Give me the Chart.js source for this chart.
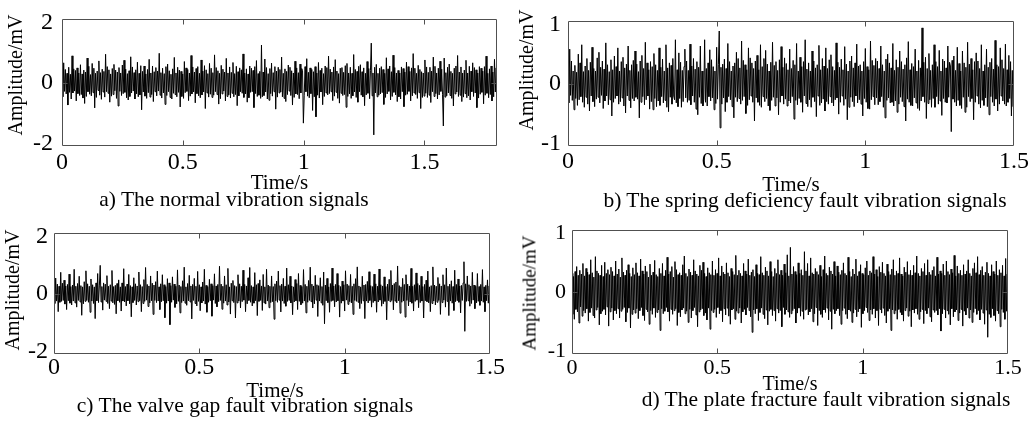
<!DOCTYPE html>
<html>
<head>
<meta charset="utf-8">
<script src="https://cdn.jsdelivr.net/npm/chart.js@4/dist/chart.umd.min.js"></script>
<style>
  html, body { margin: 0; padding: 0; background: #fff; }
  body { width: 1036px; height: 428px; position: relative; overflow: hidden; }
  canvas { position: absolute; }
  .txt { position: absolute; font-family: "Liberation Serif", "Times New Roman", serif; font-weight: normal; white-space: nowrap; color: #000; line-height: 1; }
</style>
</head>
<body>
<canvas id="ca" width="518" height="214" style="left:0px;top:0px;width:518px;height:214px"></canvas>
<canvas id="cb" width="518" height="214" style="left:518px;top:0px;width:518px;height:214px"></canvas>
<canvas id="cc" width="518" height="214" style="left:0px;top:214px;width:518px;height:214px"></canvas>
<canvas id="cd" width="518" height="214" style="left:518px;top:214px;width:518px;height:214px"></canvas>
<script>
// ---------------- data (amplitude in mV) ----------------
const captions = [
  'a) The normal vibration signals',
  'b) The spring deficiency fault vibration signals',
  'c) The valve gap fault vibration signals',
  'd) The plate fracture fault vibration signals'
];
const xTitle = 'Time/s';
const yTitle = 'Amplitude/mV';

const durationA = 1.8;   // seconds shown in each panel
const durationB = 1.5;
const durationC = 1.5;
const durationD = 1.5;

const yTicksA = [-2, 0, 2];
const yTicksB = [-1, 0, 1];
const yTicksC = [-2, 0, 2];
const yTicksD = [-1, 0, 1];
const xTickStep = 0.5;

const signalA = [
.34,-.45,.62,-.28,.41,-.36,.29,-.71,.48,-.31,.26,-.52,.84,-.33,.43,-.27,.38,-.58,.46,-.35,
.3,-.41,.56,-.38,.27,-.49,.39,-.66,.33,-.44,.77,-.29,.51,-.37,.25,-.42,.6,-.32,.45,-.8,
.29,-.47,.36,-.25,.68,-.4,.31,-.53,.42,-.3,.35,-.46,.89,-.29,.5,-.34,.4,-.62,.27,-.43,
.44,-.38,.57,-.26,.39,-.5,.33,-.74,.47,-.28,.3,-.41,.55,-.35,.7,-.31,.42,-.48,.28,-.55,
.37,-.44,.81,-.33,.49,-.27,.31,-.52,.4,-.36,.64,-.45,.29,-.39,.53,-.86,.35,-.3,.52,-.43,
.27,-.5,.41,-.32,.73,-.46,.3,-.38,.52,-.6,.34,-.29,.47,-.42,.36,-.27,.92,-.4,.31,-.49,
.45,-.33,.28,-.69,.5,-.41,.58,-.29,.37,-.47,.26,-.52,.43,-.34,.79,-.38,.3,-.45,.48,-.31,
.39,-.77,.35,-.44,.27,-.5,.66,-.32,.46,-.28,.41,-.57,.3,-.43,.85,-.36,.49,-.3,.33,-.64,
.44,-.35,.5,-.42,.29,-.48,.71,-.39,.36,-.3,.53,-.82,.4,-.33,.28,-.46,.6,-.37,.45,-.47,
.31,-.4,.87,-.29,.47,-.38,.37,-.68,.29,-.51,.54,-.36,.42,-.27,.33,-.58,.76,-.44,.3,-.39,
.49,-.49,.32,-.34,.63,-.45,.28,-.38,.51,-.73,.34,-.42,.46,-.29,.4,-.34,.9,-.47,.3,-.36,
.43,-.62,.27,-.48,.52,-.31,.45,-.29,.38,-.79,.5,-.35,.69,-.44,.28,-.4,.35,-.5,1.18,-.45,
.33,-.41,.74,-.3,.47,-.52,.28,-.56,.44,-.35,.61,-.43,.31,-.29,.5,-.84,.36,-.46,.48,-.33,
.41,-.3,.8,-.45,.29,-.5,.43,-.6,.35,-.38,.55,-.27,.48,-.41,.37,-.71,.3,-.47,.67,-.36,
.46,-.38,.31,-.51,.58,-.33,.44,.37,-1.28,-.4,.5,-.29,.75,-.43,.32,-.48,.46,-.35,.41,-.88,
.34,-.45,.5,-1.08,.3,-.4,.63,-.49,.38,-.3,.45,-.7,.28,-.44,.52,-.33,.47,-.39,.83,-.35,
.42,-.29,.33,-.57,.49,-.43,.72,-.31,.36,-.5,.28,-.65,.45,-.34,.47,-.41,.32,-.38,.53,-.78,
.6,-.44,.3,-.36,.48,-.5,.29,-.42,.88,-.3,.41,-.47,.35,-.62,.51,-.29,.56,-.4,.34,-.45,
.46,-.73,.29,-.39,.66,-.34,.44,-.51,.37,1.24,-.42,.3,-1.65,.48,-.33,.57,-.45,.29,-.4,.45,
-.36,.5,-.32,.41,-.69,.29,-.47,.78,-.36,.43,-.28,.52,-.55,.34,-.44,.86,-.31,.47,-.39,.3,
-.6,.38,-.45,.3,-.52,.49,-.29,.44,-.76,.33,-.4,.64,-.37,.5,-.28,.35,-.58,.46,-.42,.91,
-.33,.45,-.38,.29,-.5,.54,-.32,.41,-.82,.34,-.47,.3,-.43,.71,-.34,.49,-.47,.32,-.4,.48,
-.63,.36,-.29,.8,-.44,.51,-.35,.3,-.52,.45,-.39,.67,-.28,.42,-.37,-1.37,.77,-.46,.31,-.42,
.48,-.33,.58,-.41,.35,-.5,.29,-.74,.45,-.36,.52,-.3,.85,-.44,.33,-.4,.49,-.6,.3,-.46,
.39,-.35,.7,-.48,.3,-.42,.51,-.55,.36,-.29,.62,-.44,.47,-.33,.4,-.79,.3,-.49,.5,-.37,
.45,-.31,.36,-.67,.5,-.4,.83,-.34,.29,-.48,.43,-.38,.52,-.58,.33,-.45,.73,-.3,.46,-.4
];

const signalB = [
.22,-.31,.55,-.19,.36,-.27,.2,-.42,.29,-.24,.18,-.35,.47,-.26,.33,-.21,.62,-.3,.19,-.38,
.28,-.22,.4,-.33,.21,-.44,.34,-.2,.58,-.29,.24,-.37,.2,-.25,.41,-.22,.5,-.31,.26,-.19,
.36,-.4,.23,-.28,.65,-.2,.3,-.34,.19,-.26,.38,-.52,.22,-.3,.44,-.24,.27,-.2,.57,-.33,
.2,-.29,.35,-.23,.42,-.36,.25,-.47,.31,-.2,.6,-.27,.21,-.39,.3,-.24,.37,-.28,.52,-.22,
.31,-.25,.19,-.55,.36,-.3,.45,-.21,.24,-.34,.66,-.26,.33,-.2,.22,-.41,.35,-.29,.27,-.42,
.48,-.24,.3,-.37,.21,-.28,.57,-.35,.26,-.21,.39,-.31,.2,-.27,.62,-.38,.25,-.45,.33,-.22,
.29,-.33,.4,-.2,-.26,.7,-.31,.22,-.37,.49,-.24,.34,-.38,.21,-.29,.27,.55,-.23,.36,-.3,
.21,-.27,.63,-.34,.28,-.2,.4,-.3,.23,-.41,.35,-.5,.26,-.22,.6,-.32,.2,-.36,-.25,.7,
-.3,.24,-.36,.33,-.21,.54,-.28,.38,-.23,.27,-.42,.2,-.32,.58,-.25,.3,.84,-.71,.26,-.33,
.31,-.23,.39,-.45,.24,-.3,.64,-.21,.35,-.26,.2,-.37,.28,-.55,.33,-.22,.5,-.29,.4,-.24,
.25,-.33,.68,-.27,.37,-.21,.3,-.48,.22,-.35,.57,-.26,.41,-.2,.33,-.3,.24,-.6,.36,-.23,
.45,-.3,.22,-.35,.62,-.38,.27,-.21,.4,-.29,.53,-.24,.31,-.36,.2,-.43,.34,-.27,.66,-.22,
.29,-.36,.35,-.23,.21,-.5,.38,-.3,.59,-.2,.26,-.33,.41,-.25,.32,-.36,.22,-.28,.55,-.31,
.24,-.21,.37,-.57,.3,-.27,.64,-.34,.2,-.24,.42,-.3,.27,-.46,.35,-.2,.7,-.32,.23,-.37,
.33,-.26,.2,-.38,.52,-.22,.36,-.29,.25,-.53,.3,-.2,.61,-.35,.22,-.31,.4,-.25,.28,-.44,
.57,-.29,.24,-.33,.38,-.21,.46,-.31,.27,-.36,.21,-.26,.65,-.23,.34,-.49,.26,-.3,.39,-.2,
.22,-.35,.59,-.25,.31,-.58,.2,-.38,.36,-.22,.44,-.29,.25,-.37,.33,-.2,.63,-.31,.28,-.26,
.3,-.33,.2,-.52,.35,-.24,.56,-.3,.27,-.4,.22,-.41,.68,-.26,.37,-.21,.29,-.34,.4,-.23,
.36,-.34,.24,-.29,.6,-.21,.3,-.38,.2,-.55,.39,-.27,.47,-.23,.33,-.31,.25,-.3,.64,-.36,
.21,-.28,.38,-.46,.26,-.33,.52,-.22,.35,-.29,.23,-.37,.3,-.6,.41,-.25,.67,-.3,.22,-.35,
.32,-.36,.27,-.23,.55,-.31,.2,-.4,.37,-.43,.25,-.28,.89,-.21,.34,-.3,.42,-.56,.24,-.32,
.48,-.26,.21,-.38,.3,-.24,.62,-.38,.35,-.21,.27,-.33,.53,-.28,.2,-.51,.39,-.24,.36,-.3,
.25,-.31,.6,-.22,.34,.28,-.77,.37,-.25,.44,-.3,.21,-.36,.58,-.27,.32,-.35,.2,-.4,.52,
-.22,.33,-.46,.26,-.38,.66,-.21,.31,-.29,.4,-.24,.22,-.58,.35,-.3,.49,-.2,.36,-.33,.24,
-.39,.62,-.27,.2,-.35,.3,-.23,.55,-.37,.26,-.5,.34,-.21,.4,-.3,.23,-.36,.69,-.25,.3,
-.44,.27,-.33,.57,-.2,.38,-.28,.24,-.33,.63,-.36,.22,-.3,.45,-.24,.35,-.52,.21,-.37,.58
];

const signalC = [
.27,-.33,.51,-.25,.31,-.6,.24,-.29,.7,-.26,.34,-.23,.44,-.35,.25,-.53,.3,-.24,.64,-.32,
.23,-.38,.28,-.25,.8,-.31,.24,-.45,.33,-.23,.57,-.28,.26,-.72,.22,-.34,.39,-.26,.75,-.23,
.32,-.29,.24,-.62,.48,-.25,.29,-.33,.22,-.83,.35,-.24,.66,-.3,.25,.93,-.28,.23,-.55,.35,
-.22,.31,-.26,.59,-.33,.24,-.5,.29,-.25,.76,-.31,.23,-.36,.27,-.67,.33,-.24,.45,-.29,.22,
-.58,.35,-.25,.82,-.28,.23,-.41,.31,-.24,.63,-.34,.26,-.77,.22,-.3,.52,-.23,.32,-.38,.25,
-.27,.71,-.24,.29,-.6,.23,-.33,.46,-.26,.86,-.22,.3,-.43,.25,-.31,.58,-.24,.34,-.69,.28,
-.23,.39,-.3,.74,-.25,.22,-.53,.32,-.27,.62,-.24,.29,-.8,.23,-.32,.49,-.25,.35,-1.03,.26,
-.29,.55,-.22,.31,-.46,.24,-.34,.78,-.26,.28,-.64,.23,-.3,.42,-.25,.87,-.32,.22,-.39,.33,
-.24,.6,-.28,.25,-.84,.3,-.23,.5,-.33,.24,-.41,.73,-.26,.29,-.57,.22,-.31,.38,-.25,.8,
-.35,.27,-.62,.23,-.29,.47,-.24,.32,-.75,.26,-.22,.65,-.33,.25,-.44,.3,-.27,.9,-.23,.31,
-.52,.24,-.32,.58,-.25,.29,-.38,.83,-.28,.22,-.68,.34,-.24,.43,-.3,.26,-.81,.23,-.31,.62,
-.25,.32,-.48,.24,-.27,.77,-.22,.3,-.6,.25,-.34,.52,-.23,.86,-.29,.26,-.41,.22,-.32,.69,
-.24,.29,-.73,.33,-.26,.45,-.23,.25,-.56,.63,-.31,.22,-.35,.8,-.25,.28,-.47,.24,-.3,.58,
-.27,.23,-.85,.32,-.24,.41,-.29,.74,-.22,.26,-.61,.31,-.25,.5,-.33,.24,-.42,.84,-.26,.29,
-.23,.57,-.31,.25,-.7,.22,-.28,.46,-.24,.33,-.53,.66,-.26,.27,-.37,.23,-.32,.79,-.25,.3,
-.64,.24,-.29,.43,-.23,.87,-.27,.31,-.48,.25,-.34,.6,-.22,.29,-.76,.26,-.25,.52,-.31,.23,
-.39,.71,-1.0,.28,-.24,.5,-.3,.22,-.62,.33,-.26,.84,-.23,.25,-.44,.3,-.28,.66,-.24,.27,
-.78,.23,-.32,.41,-.25,.29,-.58,.75,-.22,.31,-.36,.26,-.27,.63,-.31,.24,-.69,.32,-.23,.49,
-.26,.88,-.29,.25,-.5,.22,-.33,.57,-.24,.28,-.83,.3,-.25,.4,-.31,.72,-.23,.26,-.45,.23,
-.3,.64,-.25,.32,-.62,.24,-.28,.81,-.22,.29,-.42,.25,-.34,.55,-.26,.23,-.87,.31,-.24,.47,
-.27,.76,-.23,.28,-.54,.33,-.25,.38,-.31,.91,-.24,.26,-.65,.22,-.29,.5,-.25,.3,-.78,.62,
-.23,.31,-.41,.25,-.28,.83,-.32,.24,-.58,.29,-.26,.68,-.22,.33,-.47,.27,-.3,.57,-.25,.23,
-.81,.3,-.24,.44,-.27,.74,-.31,.22,-.6,.26,-.33,.88,-.25,.28,-.38,.24,-.29,.53,-.23,.32,
-.69,.25,-.3,.62,-.22,.29,-.45,.84,-.26,.24,-.73,.31,-.25,.42,-.32,.23,-.56,.77,-.27,.3,
-.24,.48,-.29,.25,-.64,.27,-.23,.35,1.05,-1.25,.32,-.26,.58,-.24,.29,-.42,.25,-.33,.7,-.22,
.28,-.5,.24,-.31,.66,-.26,.23,-.39,.3,-.25,.79,-.29,.22,-.6,.27,-.24,.45,-.32,.25,-.36
];

const signalD = [
.3,-.36,.25,-.44,.33,-.28,.41,-.32,.27,-.5,.35,-.24,.29,-.39,.46,-.3,.26,-.34,.38,-.27,
.32,-.47,.28,-.33,.52,-.26,.31,-.38,.24,-.42,.57,-.29,.34,-.25,.3,-.53,.27,-.35,.43,-.31,
.25,-.28,.48,-.37,.3,-.24,.36,-.55,.28,-.32,.4,-.26,.33,-.45,.26,-.3,.5,-.35,.29,-.27,
.37,-.42,.24,-.31,.55,-.28,.32,-.25,.27,-.48,.35,-.33,.44,-.26,.3,-.58,.25,-.36,.39,-.29,
.28,-.34,.47,-.27,.31,-.43,.26,-.3,.53,-.25,.34,-.38,.29,-.46,.42,-.28,.33,-.32,.24,-.52,
.45,-.3,.27,-.36,.32,-.26,.51,-.41,.28,-.33,.25,-.29,.38,-.62,.3,-.27,.46,-.35,.26,-.31,
.35,-.25,.56,-.32,.29,-.47,.33,-.28,.41,-.36,.24,-.3,.49,-.27,.36,-.54,.28,-.33,.31,-.4,
.27,-.29,.44,-.26,.58,-.35,.3,-.31,.25,-.49,.37,-.28,.32,-.42,.27,-.3,.52,-.25,.34,-.37,
.29,-.56,.26,-.32,.43,-.29,.35,-.27,.48,-.38,.3,-.34,.25,-.45,.39,-.26,.31,-.6,.28,-.3,
.5,-.33,.27,-.28,.36,-.41,.3,-.25,.55,-.35,.26,-.3,.42,-.48,.32,-.27,.29,-.37,.47,-.26,
.31,-.39,.25,-.52,.38,-.29,.33,-.27,.28,-.44,.59,-.31,.27,-.34,.35,-.26,.3,-.5,.26,-.32,
.46,-.28,.34,-.37,.29,-.25,.53,-.3,.27,-.4,.32,-.65,.36,-.29,.25,-.35,.44,-.27,.3,-.46,
.28,-.33,.57,-.26,.31,-.36,.27,-.43,.4,-.29,.34,-.53,.26,-.31,.49,-.28,.33,-.38,.25,-.3,
.38,-.47,.3,-.27,.52,-.34,.28,-.3,.35,-.56,.27,-.25,.45,-.36,.31,-.29,.6,-.32,.26,-.41,
.72,-.35,.29,-.3,.41,-.27,.33,-.5,.28,-.34,.47,-.26,.3,-.39,.36,-.31,.27,-.44,.65,-.29,
.34,-.28,.46,-.37,.26,-.32,.55,-.27,.31,-.48,.29,-.35,.38,-.25,.33,-.54,.28,-.3,.43,-.36,
.25,-.41,.36,-.29,.58,-.33,.3,-.26,.27,-.45,.4,-.31,.34,-.6,.29,-.28,.49,-.35,.26,-.3,
.42,-.27,.32,-.38,.28,-.52,.35,-.3,.47,-.26,.3,-.36,.27,-.43,.56,-.29,.33,-.31,.25,-.49,
.37,-.34,.29,-.28,.53,-.4,.26,-.32,.33,-.27,.44,-.57,.3,-.35,.28,-.3,.39,-.25,.5,-.33,
.27,-.46,.34,-.29,.31,-.36,.57,-.27,.29,-.42,.36,-.3,.25,-.54,.41,-.28,.32,-.34,.48,-.26,
.3,-.38,.26,-.5,.45,-.31,.33,-.27,.28,-.62,.37,-.29,.52,-.35,.27,-.3,.34,-.44,.3,-.28,
.55,-.33,.29,-.37,.26,-.47,.4,-.3,.32,-.26,.49,-.39,.28,-.31,.35,-.56,.27,-.29,.43,-.34,
.31,-.27,.58,-.36,.3,-.44,.26,-.32,.38,-.28,.33,-.51,.46,-.3,.27,-.35,.52,-.26,.32,-.4,
.28,-.48,.35,-.29,.41,-.33,.26,-.3,.56,-.37,.29,-.27,.34,-.63,.3,-.35,.45,-.28,.27,-.42,
.5,-.3,.33,-.36,.28,-.53,.37,-.27,.31,-.4,.59,-.32,.26,-.29,.42,-.46,.3,-.34,.35,-.28,
.27,-.55,.44,-.31,.29,-.37,.34,-.26,.52,-.42,.3,-.29,.26,-.49,.38,-.33,.47,-.27,.31,-.36,
.57,-.3,.28,-.45,.35,-.28,.41,-.34,.27,-.52,.32,-.29,.48,-.73,.3,-.36,.26,-.41,.44,-.27,
.33,-.38,.29,-.47,.5,-.3,.27,-.35,.36,-.56,.31,-.28,.43,-.33,.26,-.44,.54,-.31,.29,-.37
];

// ---------------- rendering ----------------
const CW = 518, CH = 214;
const EM_CENTER = 0.5075; // glyph centre below line-box top, in em (line-height 1)

const framePlugin = {
  id: 'frame',
  afterDatasetsDraw(chart) {
    const { ctx, chartArea: a, scales: { x, y } } = chart;
    const L = Math.round(a.left) + 0.5, R = Math.round(a.right) - 0.5;
    const T = Math.round(a.top) + 0.5, B = Math.round(a.bottom) - 0.5;
    const len = 5;
    ctx.save();
    ctx.strokeStyle = '#505050';
    ctx.lineWidth = 1;
    ctx.beginPath();
    ctx.rect(L, T, R - L, B - T);
    x.ticks.forEach(tk => {
      const px = Math.round(x.getPixelForValue(tk.value)) + 0.5;
      if (px <= L + 1 || px >= R - 1) return;
      ctx.moveTo(px, T); ctx.lineTo(px, T + len);
      ctx.moveTo(px, B); ctx.lineTo(px, B - len);
    });
    y.ticks.forEach(tk => {
      const py = Math.round(y.getPixelForValue(tk.value)) + 0.5;
      if (py <= T + 1 || py >= B - 1) return;
      ctx.moveTo(L, py); ctx.lineTo(L + len, py);
      ctx.moveTo(R, py); ctx.lineTo(R - len, py);
    });
    ctx.stroke();
    ctx.restore();
  }
};

function addText(text, size, css) {
  const d = document.createElement('div');
  d.className = 'txt';
  d.textContent = text;
  d.style.fontSize = size + 'px';
  Object.assign(d.style, css);
  document.body.appendChild(d);
  return d;
}

function makePanel(id, values, duration, yTicks, caption, g) {
  const pts = values.map((v, i) => ({ x: i * duration / (values.length - 1), y: v }));
  const yStep = yTicks[1] - yTicks[0];
  const [bl, bt, br, bb] = g.box;
  const chart = new Chart(document.getElementById(id), {
    type: 'line',
    data: { datasets: [{ data: pts, borderColor: '#000', borderWidth: 1, pointRadius: 0, tension: 0, fill: false }] },
    plugins: [framePlugin],
    options: {
      responsive: false,
      animation: false,
      devicePixelRatio: 1,
      parsing: false,
      normalized: true,
      layout: { padding: { left: 0, top: bt - g.cy, right: g.cx + CW - br, bottom: g.cy + CH - bb } },
      plugins: { legend: { display: false }, tooltip: { enabled: false }, title: { display: false } },
      scales: {
        x: {
          type: 'linear', min: 0, max: duration,
          grid: { display: false }, border: { display: false },
          ticks: { display: false, stepSize: xTickStep, includeBounds: false, autoSkip: false, callback: v => String(v) },
          title: { display: false, text: xTitle },
          afterFit: s => { s.height = 0; }
        },
        y: {
          type: 'linear', min: yTicks[0], max: yTicks[yTicks.length - 1],
          grid: { display: false }, border: { display: false },
          ticks: { display: false, stepSize: yStep, autoSkip: false, callback: v => String(v) },
          title: { display: false, text: yTitle },
          afterFit: s => { s.width = bl - g.cx; }
        }
      }
    }
  });

  // text placed from the library's own scales
  const xs = chart.scales.x, ys = chart.scales.y, area = chart.chartArea;
  xs.ticks.forEach(tk => {
    const px = g.cx + xs.getPixelForValue(tk.value);
    addText(tk.label != null ? String(tk.label) : String(tk.value), g.tick,
      { left: px + 'px', top: (g.xTickY - EM_CENTER * g.tick) + 'px', transform: 'translateX(-50%)' });
  });
  ys.ticks.forEach(tk => {
    const py = g.cy + ys.getPixelForValue(tk.value);
    const off = tk.value === ys.max ? 2.5 : (tk.value === ys.min ? -3.5 : -1);
    addText(tk.label != null ? String(tk.label) : String(tk.value), g.tick,
      { left: (g.cx + area.left - g.yPad) + 'px', top: (py + off - EM_CENTER * g.tick) + 'px', transform: 'translateX(-100%)' });
  });
  const midX = g.cx + (area.left + area.right) / 2;
  addText(xTitle, g.xt, { left: (midX + g.xtDx) + 'px', top: (g.xtY - EM_CENTER * g.xt) + 'px', transform: 'translateX(-50%)' });
  addText(yTitle, g.yt, { left: g.ytX + 'px', top: g.ytY + 'px', transform: 'translate(-50%, -50%) rotate(-90deg)' });
  addText(caption, 21.5, { left: g.capX + 'px', top: (g.capY - EM_CENTER * 21.5) + 'px', transform: 'translateX(-50%)' });
}

makePanel('ca', signalA, durationA, yTicksA, captions[0],
  { cx: 0, cy: 0, box: [62, 19, 497, 146], tick: 24, xTickY: 161, yPad: 9,
    xt: 21, xtY: 183, xtDx: 0, yt: 20, ytX: 14.5, ytY: 75, capX: 234, capY: 200 });
makePanel('cb', signalB, durationB, yTicksB, captions[1],
  { cx: 518, cy: 0, box: [568, 21, 1014, 146], tick: 24, xTickY: 160, yPad: 7,
    xt: 21, xtY: 185, xtDx: 0, yt: 20, ytX: 525.5, ytY: 70, capX: 805, capY: 201 });
makePanel('cc', signalC, durationC, yTicksC, captions[2],
  { cx: 0, cy: 214, box: [54, 233, 490, 354], tick: 24, xTickY: 366.5, yPad: 6,
    xt: 21, xtY: 391, xtDx: 3, yt: 20, ytX: 11.5, ytY: 290, capX: 245, capY: 406 });
makePanel('cd', signalD, durationD, yTicksD, captions[3],
  { cx: 518, cy: 214, box: [572, 230, 1008, 354], tick: 22, xTickY: 367, yPad: 6,
    xt: 20, xtY: 383.5, xtDx: 0, yt: 19, ytX: 528.6, ytY: 292.5, capX: 826, capY: 400 });
</script>
</body>
</html>
